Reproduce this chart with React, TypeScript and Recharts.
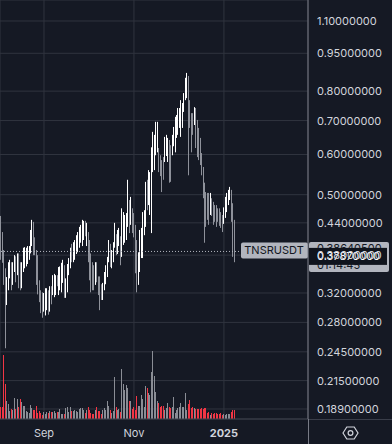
import React from "react";
import {
  ComposedChart,
  Bar,
  Cell,
  XAxis,
  YAxis,
  CartesianGrid,
  ReferenceLine,
} from "recharts";

// daily candles from 2024-08-02 (index 0) to 2025-01-08 (index 159)
const open = [
  0.466, 0.436, 0.407, 0.375, 0.339, 0.31, 0.332, 0.358, 0.365, 0.336,
  0.358, 0.375, 0.355, 0.378, 0.358, 0.333, 0.358, 0.368, 0.375, 0.372,
  0.378, 0.389, 0.407, 0.434, 0.402, 0.38, 0.368, 0.333, 0.321, 0.316,
  0.302, 0.296, 0.304, 0.318, 0.302, 0.324, 0.324, 0.321, 0.324, 0.342,
  0.324, 0.336, 0.332, 0.355, 0.358, 0.317, 0.332, 0.355, 0.365, 0.393,
  0.378, 0.389, 0.389, 0.407, 0.4, 0.418, 0.416, 0.43, 0.442, 0.407,
  0.418, 0.389, 0.368, 0.358, 0.352, 0.336, 0.358, 0.339, 0.332, 0.327,
  0.316, 0.33, 0.342, 0.355, 0.375, 0.396, 0.365, 0.378, 0.407, 0.414,
  0.393, 0.403, 0.407, 0.389, 0.416, 0.41, 0.416, 0.444, 0.47, 0.442,
  0.462, 0.446, 0.426, 0.389, 0.347, 0.363, 0.398, 0.407, 0.436, 0.446,
  0.516, 0.488, 0.499, 0.523, 0.585, 0.598, 0.626, 0.656, 0.606, 0.585,
  0.572, 0.58, 0.59, 0.612, 0.598, 0.635, 0.612, 0.612, 0.635, 0.641,
  0.671, 0.686, 0.702, 0.686, 0.708, 0.741, 0.782, 0.811, 0.834, 0.741,
  0.708, 0.708, 0.696, 0.728, 0.656, 0.641, 0.618, 0.59, 0.554, 0.516,
  0.488, 0.477, 0.488, 0.466, 0.488, 0.477, 0.47, 0.466, 0.462, 0.466,
  0.458, 0.45, 0.442, 0.462, 0.477, 0.488, 0.497, 0.506, 0.462, 0.436,
];
const high = [
  0.477, 0.454, 0.422, 0.389, 0.358, 0.344, 0.368, 0.372, 0.368, 0.368,
  0.38, 0.378, 0.383, 0.383, 0.368, 0.368, 0.393, 0.394, 0.393, 0.396,
  0.396, 0.426, 0.446, 0.442, 0.412, 0.389, 0.38, 0.339, 0.324, 0.321,
  0.32, 0.327, 0.327, 0.324, 0.33, 0.33, 0.347, 0.349, 0.347, 0.347,
  0.36, 0.361, 0.367, 0.372, 0.363, 0.342, 0.365, 0.375, 0.393, 0.4,
  0.403, 0.407, 0.416, 0.422, 0.432, 0.436, 0.446, 0.444, 0.444, 0.44,
  0.422, 0.407, 0.383, 0.368, 0.363, 0.368, 0.368, 0.345, 0.345, 0.333,
  0.335, 0.352, 0.363, 0.377, 0.407, 0.4, 0.389, 0.403, 0.44, 0.418,
  0.426, 0.43, 0.414, 0.47, 0.462, 0.456, 0.46, 0.535, 0.488, 0.495,
  0.47, 0.46, 0.436, 0.407, 0.385, 0.426, 0.43, 0.462, 0.466, 0.53,
  0.535, 0.559, 0.554, 0.62, 0.665, 0.656, 0.696, 0.696, 0.618, 0.598,
  0.585, 0.593, 0.65, 0.656, 0.647, 0.641, 0.626, 0.656, 0.68, 0.712,
  0.718, 0.741, 0.741, 0.768, 0.758, 0.793, 0.85, 0.869, 0.857, 0.768,
  0.724, 0.724, 0.744, 0.741, 0.702, 0.677, 0.647, 0.604, 0.567, 0.528,
  0.506, 0.504, 0.504, 0.504, 0.492, 0.484, 0.477, 0.477, 0.47, 0.47,
  0.462, 0.456, 0.472, 0.495, 0.504, 0.511, 0.518, 0.511, 0.481, 0.446,
];
const low = [
  0.389, 0.372, 0.367, 0.332, 0.249, 0.303, 0.324, 0.342, 0.324, 0.332,
  0.352, 0.336, 0.347, 0.327, 0.324, 0.327, 0.352, 0.358, 0.361, 0.365,
  0.372, 0.383, 0.396, 0.38, 0.38, 0.332, 0.318, 0.307, 0.292, 0.286,
  0.294, 0.289, 0.296, 0.29, 0.294, 0.304, 0.317, 0.314, 0.317, 0.33,
  0.317, 0.324, 0.321, 0.335, 0.313, 0.313, 0.321, 0.347, 0.358, 0.368,
  0.368, 0.372, 0.382, 0.385, 0.393, 0.402, 0.396, 0.407, 0.414, 0.396,
  0.368, 0.339, 0.321, 0.324, 0.324, 0.332, 0.336, 0.317, 0.296, 0.31,
  0.31, 0.324, 0.333, 0.344, 0.368, 0.36, 0.358, 0.368, 0.393, 0.38,
  0.382, 0.396, 0.363, 0.377, 0.398, 0.402, 0.407, 0.432, 0.42, 0.436,
  0.42, 0.412, 0.35, 0.321, 0.332, 0.352, 0.375, 0.375, 0.416, 0.432,
  0.466, 0.477, 0.456, 0.42, 0.554, 0.559, 0.598, 0.606, 0.554, 0.544,
  0.506, 0.535, 0.58, 0.596, 0.58, 0.528, 0.53, 0.598, 0.623, 0.606,
  0.647, 0.656, 0.677, 0.65, 0.677, 0.728, 0.768, 0.775, 0.546, 0.677,
  0.606, 0.656, 0.686, 0.618, 0.593, 0.585, 0.572, 0.546, 0.492, 0.402,
  0.432, 0.446, 0.436, 0.456, 0.454, 0.436, 0.442, 0.432, 0.442, 0.434,
  0.43, 0.422, 0.438, 0.45, 0.462, 0.477, 0.488, 0.442, 0.377, 0.368,
];
const close = [
  0.407, 0.38, 0.372, 0.336, 0.29, 0.339, 0.363, 0.367, 0.333, 0.361,
  0.375, 0.352, 0.38, 0.339, 0.332, 0.358, 0.385, 0.389, 0.385, 0.389,
  0.391, 0.42, 0.44, 0.393, 0.389, 0.342, 0.324, 0.313, 0.299, 0.296,
  0.316, 0.318, 0.321, 0.303, 0.321, 0.31, 0.342, 0.342, 0.344, 0.333,
  0.352, 0.355, 0.361, 0.365, 0.321, 0.336, 0.358, 0.368, 0.389, 0.375,
  0.398, 0.396, 0.41, 0.414, 0.426, 0.43, 0.442, 0.438, 0.422, 0.434,
  0.38, 0.358, 0.339, 0.336, 0.333, 0.363, 0.342, 0.324, 0.31, 0.316,
  0.332, 0.347, 0.358, 0.372, 0.4, 0.368, 0.38, 0.398, 0.434, 0.389,
  0.418, 0.42, 0.378, 0.462, 0.45, 0.436, 0.446, 0.499, 0.436, 0.477,
  0.434, 0.422, 0.372, 0.347, 0.372, 0.407, 0.422, 0.45, 0.456, 0.511,
  0.477, 0.539, 0.535, 0.598, 0.647, 0.641, 0.683, 0.671, 0.564, 0.554,
  0.53, 0.546, 0.635, 0.641, 0.635, 0.572, 0.554, 0.641, 0.671, 0.696,
  0.702, 0.728, 0.721, 0.751, 0.741, 0.782, 0.834, 0.85, 0.734, 0.702,
  0.641, 0.671, 0.734, 0.641, 0.612, 0.598, 0.585, 0.554, 0.511, 0.466,
  0.446, 0.456, 0.45, 0.492, 0.466, 0.45, 0.456, 0.446, 0.45, 0.442,
  0.438, 0.43, 0.466, 0.488, 0.495, 0.502, 0.511, 0.456, 0.426, 0.386405,
];
// volume, 100k TNSR
const volume = [
  16, 12, 12, 64, 35, 18, 15, 8, 10, 9,
  21, 10, 20, 12, 20, 17, 13, 13, 8, 7,
  6, 14, 11, 9, 9, 13, 6, 8, 6, 4,
  7, 5, 7, 6, 8, 7, 7, 8, 6, 7,
  7, 10, 5, 5, 5, 11, 12, 7, 12, 8,
  8, 9, 8, 7, 10, 11, 11, 9, 6, 9,
  12, 9, 6, 5, 5, 9, 12, 8, 8, 5,
  9, 11, 9, 18, 13, 9, 6, 8, 42, 12,
  9, 10, 7, 50, 35, 29, 34, 31, 18, 18,
  10, 12, 9, 23, 13, 13, 24, 20, 12, 33,
  31, 26, 24, 47, 68, 43, 27, 18, 16, 12,
  13, 13, 9, 11, 16, 12, 11, 12, 22, 6,
  9, 11, 12, 16, 12, 12, 26, 9, 15, 19,
  11, 12, 11, 10, 10, 10, 10, 11, 10, 11,
  11, 6, 7, 4, 6, 5, 6, 6, 5, 5,
  6, 4, 5, 4, 5, 5, 5, 7, 9, 9,
];

const priceTicks = [0.189, 0.215, 0.245, 0.28, 0.32, 0.38, 0.44, 0.5, 0.6, 0.7, 0.8, 0.95, 1.1];
const dateTicks = [30, 91, 152];
const dateLabels = ["Sep", "Nov", "2025"];
const lastPrice = 0.386405;
const markPrice = 0.3787;
const countdown = "01:14:45";

const data = open.map((o, i) => ({
  day: i,
  open: o,
  high: high[i],
  low: low[i],
  close: close[i],
  volume: volume[i],
}));

const BG = "#151924";
const GRID = "#30343f";
const TEXT = "#d1d4dc";
const UP = "#ffffff";
const DOWN = "#8e919a";
const FONT = "Inter, Roboto, sans-serif";

const Candle = (p: any) => {
  const { x, y, width, height, payload } = p;
  if (y == null || height == null) return null;
  const cx = Math.floor(x + width / 2);
  const up = payload.close >= payload.open;
  const lh = Math.log(payload.high);
  const span = Math.log(payload.high) - Math.log(payload.low) || 1;
  const at = (v: number) => y + (height * (lh - Math.log(v))) / span;
  const top = at(Math.max(payload.open, payload.close));
  const bot = at(Math.min(payload.open, payload.close));
  const c = up ? UP : DOWN;
  return (
    <g>
      <rect x={cx} y={y} width={1} height={Math.max(height, 1)} fill={c} />
      <rect x={cx} y={top} width={1} height={Math.max(bot - top, 1)} fill={c} />
    </g>
  );
};

const VolBar = (p: any) => {
  const { x, y, width, height, fill } = p;
  if (!height) return null;
  return <rect x={Math.floor(x + width / 2)} y={y} width={1} height={height} fill={fill} />;
};

const PriceTick = ({ x, y, payload }: any) => (
  <text x={x} y={y} dy="0.36em" fill={TEXT} fontSize={11} fontFamily={FONT} textAnchor="start">
    {payload.value.toFixed(8)}
  </text>
);

const DateTick = ({ x, y, payload }: any) => {
  const i = dateTicks.indexOf(payload.value);
  return (
    <text
      x={x}
      y={y}
      dy="0.71em"
      fill={TEXT}
      fontSize={11}
      fontFamily={FONT}
      fontWeight={i === 2 ? 700 : 400}
      textAnchor="middle"
    >
      {dateLabels[i]}
    </text>
  );
};

// symbol tag on the dotted last-price line
const SymbolTag = ({ viewBox }: any) => {
  const { x, y, width } = viewBox;
  const r = x + width;
  return (
    <g fontFamily={FONT} fontSize={11}>
      <rect x={r - 67} y={y - 9} width={67} height={16} rx={2} fill="#b2b5be" />
      <text x={r - 34} y={y - 1} dy="0.36em" textAnchor="middle" fill="#131722">
        TNSRUSDT
      </text>
    </g>
  );
};

// price-scale labels: last price box (with countdown) under the dark 0.3787 box
const ScaleLabels = ({ viewBox }: any) => {
  const { x, y, width } = viewBox;
  const r = x + width;
  return (
    <g fontFamily={FONT} fontSize={11}>
      <rect x={r + 1} y={y - 14} width={80} height={30} rx={2} fill="#b2b5be" />
      <text x={r + 9} y={y - 8} dy="0.36em" fill="#131722">
        {lastPrice.toFixed(8)}
      </text>
      <text x={r + 9} y={y + 9} dy="0.36em" fill="#131722">
        {countdown}
      </text>
      <rect x={r + 1} y={y - 8} width={78} height={17} fill="#10141d" />
      <text x={r + 9} y={y + 0.5} dy="0.36em" fill="#ffffff">
        {markPrice.toFixed(8)}
      </text>
    </g>
  );
};

export default function App() {
  return (
    <div style={{ position: "relative", width: 392, height: 444, background: BG, fontFamily: FONT }}>
      <style>{`body{margin:0;background:${BG}}`}</style>
      <ComposedChart width={392} height={444} data={data} margin={{ top: 0, right: 0, bottom: 0, left: 0 }}>
        <CartesianGrid xAxisId="x" yAxisId="price" stroke={GRID} />
        <XAxis
          xAxisId="x"
          dataKey="day"
          type="number"
          domain={[0.17, 209]}
          allowDataOverflow
          ticks={dateTicks}
          tick={<DateTick />}
          tickLine={false}
          tickMargin={4}
          axisLine={{ stroke: "#3a3e4a" }}
          height={25}
        />
        <XAxis
          xAxisId="v"
          orientation="top"
          dataKey="day"
          type="number"
          domain={[0.17, 209]}
          allowDataOverflow
          height={0}
          hide
        />
        <YAxis
          yAxisId="price"
          orientation="right"
          scale="log"
          domain={[0.1806, 1.21]}
          allowDataOverflow
          ticks={priceTicks}
          tick={<PriceTick />}
          tickLine={false}
          tickMargin={3}
          axisLine={{ stroke: "#787b86" }}
          width={84}
          interval={0}
        />
        <YAxis yAxisId="vol" domain={[0, 419]} width={0} hide />
        <Bar xAxisId="v" yAxisId="vol" dataKey="volume" barSize={1} shape={<VolBar />} isAnimationActive={false}>
          {data.map((d, i) => (
            <Cell key={i} fill={d.close >= d.open ? "#8a8d95" : "#f23645"} />
          ))}
        </Bar>
        <Bar
          xAxisId="x"
          yAxisId="price"
          dataKey={(d: any) => [d.low, d.high]}
          barSize={1}
          shape={<Candle />}
          isAnimationActive={false}
        />
        <ReferenceLine
          xAxisId="x"
          yAxisId="price"
          y={lastPrice}
          stroke="#b2b5be"
          strokeDasharray="1 2"
          label={<SymbolTag />}
        />
        <ReferenceLine xAxisId="x" yAxisId="price" y={markPrice} stroke="none" label={<ScaleLabels />} />
      </ComposedChart>
      <svg width={392} height={444} style={{ position: "absolute", left: 0, top: 0, pointerEvents: "none" }}>
        <line x1={308} y1={419.5} x2={392} y2={419.5} stroke="#3a3e4a" />
        <line x1={308.5} y1={419} x2={308.5} y2={444} stroke="#787b86" />
        <polygon
          points="343,433 346.8,427 354.2,427 358,433 354.2,439 346.8,439"
          fill="none"
          stroke={TEXT}
          strokeWidth={1.2}
        />
        <circle cx={350.5} cy={433} r={2.4} fill="none" stroke={TEXT} strokeWidth={1.2} />
      </svg>
    </div>
  );
}
